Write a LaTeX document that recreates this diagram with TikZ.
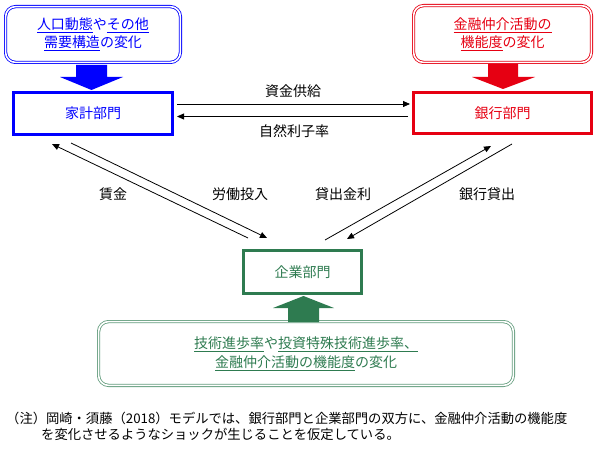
\documentclass[tikz,border=0pt]{standalone}
\usepackage{fontspec}
\setmainfont{Noto Sans CJK JP}
\usetikzlibrary{arrows.meta}
\definecolor{myblue}{RGB}{0,0,255}
\definecolor{myred}{RGB}{230,0,18}
\definecolor{mygreen}{RGB}{46,123,80}
\newcommand\fsz[2]{\fontsize{#1}{#2}\selectfont}
\newcommand\ulx[1]{\underline{\raisebox{0pt}[\height][1.6pt]{#1}}}
\begin{document}
\begin{tikzpicture}[x=1pt,y=-1pt,
  sector/.style={draw, line width=3pt, inner sep=0pt, font=\fsz{14}{18}},
  shock/.style={draw, rounded corners=10pt, double=white, double distance=1.6pt,
                line width=0.8pt, inner sep=0pt, align=center},
  flow/.style={line width=0.8pt, -{Triangle[length=7pt,width=6pt]}},
  lbl/.style={inner sep=0pt, font=\fsz{14}{18}},
  note/.style={inner sep=0pt, anchor=west, font=\fsz{13.3}{16}}
]
\useasboundingbox (0,0) rectangle (595,460);

% shock boxes
\node[shock, draw=myblue, text=myblue, minimum width=174.8pt, minimum height=55.8pt,
      font=\fsz{14}{18}] (sh) at (93,34.5)
  {\ulx{人口動態}や\ulx{その他}\\\ulx{需要構造}の変化};
\node[shock, draw=myred, text=myred, minimum width=177.8pt, minimum height=56.8pt,
      font=\fsz{14}{18}] (sb) at (502.5,34)
  {\ulx{金融仲介活動の}\\\ulx{機能度}の変化};
\node[shock, draw=mygreen!75, text=mygreen, minimum width=414.8pt, minimum height=63.8pt,
      font=\fsz{14}{19}] (sf) at (306,353.5)
  {\ulx{技術進歩率}や\ulx{投資特殊技術進歩率、}\\\ulx{金融仲介活動の機能度}の変化};

% sectors
\node[sector, draw=myblue, text=myblue, minimum width=159pt, minimum height=42pt] (hh) at (93,113.5) {家計部門};
\node[sector, draw=myred, text=myred, minimum width=178pt, minimum height=41pt] (bk) at (502.5,113) {銀行部門};
\node[sector, draw=mygreen, text=mygreen, minimum width=118pt, minimum height=43pt] (fm) at (302.5,272) {企業部門};

% block arrows
\fill[myblue] (76,65) -- (107,65) -- (107,77) -- (123,77) -- (91.5,90) -- (60,77) -- (76,77) -- cycle;
\fill[myred] (488,64) -- (518,64) -- (518,77) -- (535,77) -- (503,89) -- (472,77) -- (488,77) -- cycle;
\fill[mygreen] (288,322) -- (319,322) -- (319,308) -- (334,308) -- (303.5,296) -- (273,308) -- (288,308) -- cycle;

% connector end points
\coordinate (h1) at (177,104);   \coordinate (b1) at (410,104);
\coordinate (b2) at (408,116.5); \coordinate (h2) at (177,116.5);
\coordinate (fa) at (248,238);   \coordinate (ha) at (52,144);
\coordinate (hb) at (71,143);    \coordinate (fb) at (267,238);
\coordinate (fc) at (325,240);   \coordinate (bc) at (491,146);
\coordinate (bd) at (512,144);   \coordinate (fd) at (347,239);

\draw[flow] (h1) -- (b1);
\draw[flow] (b2) -- (h2);
\draw[flow] (fa) -- (ha);
\draw[flow] (hb) -- (fb);
\draw[flow] (fc) -- (bc);
\draw[flow] (bd) -- (fd);

% labels
\node[lbl] (l1) at (293,91) {資金供給};
\node[lbl] (l2) at (294,131) {自然利子率};
\node[lbl] (l3) at (113,194) {賃金};
\node[lbl] (l4) at (240,194) {労働投入};
\node[lbl] (l5) at (343,194) {貸出金利};
\node[lbl] (l6) at (487,194) {銀行貸出};

% note
\node[note] (n1) at (6,418) {（注）岡崎・須藤（2018）モデルでは、銀行部門と企業部門の双方に、金融仲介活動の機能度};
\node[note] (n2) at (41,434) {を変化させるようなショックが生じることを仮定している。};
\end{tikzpicture}
\end{document}
